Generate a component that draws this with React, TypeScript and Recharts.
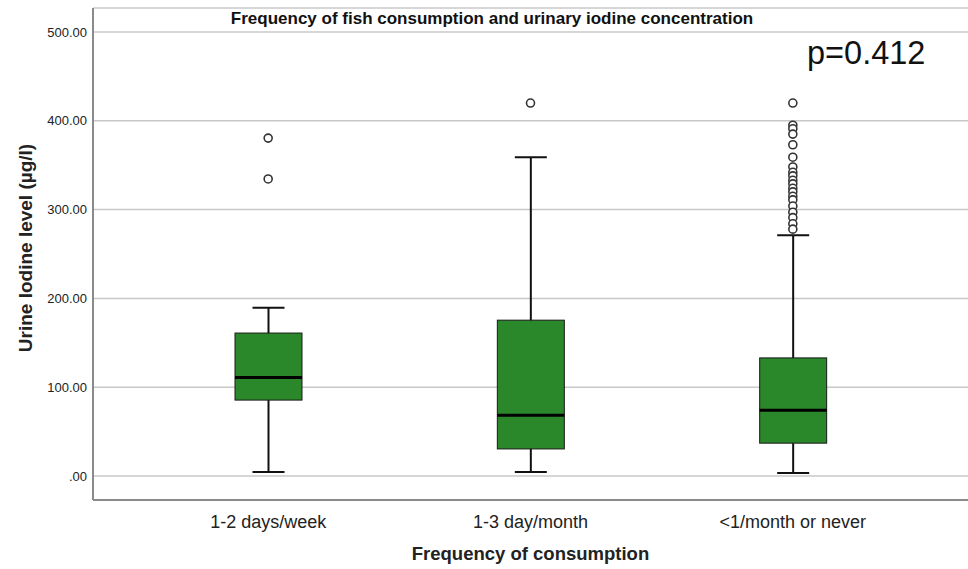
import {
  Bar,
  CartesianGrid,
  ComposedChart,
  Scatter,
  XAxis,
  YAxis,
} from 'recharts';

// box plot stats
const categories = ['1-2 days/week', '1-3 day/month', '<1/month or never'];
const whiskerLow = [4.5, 4.5, 3.5];
const q1 = [85.5, 30.5, 37];
const median = [111, 68.5, 74];
const q3 = [161, 175.5, 133];
const whiskerHigh = [189.5, 359, 271];

const outliersWeek = [334.5, 380.5];
const outliersMonth = [420];
const outliersNever = [
  420, 395, 391, 385, 373, 359, 348, 342, 338, 333, 329, 324, 320, 315, 311,
  304, 297, 291, 284, 278,
];

const yTicks = [0, 100, 200, 300, 400, 500];

const boxData = categories.map((name, i) => ({
  name,
  min: whiskerLow[i],
  q1: q1[i],
  median: median[i],
  q3: q3[i],
  max: whiskerHigh[i],
}));

const outlierData = [
  ...outliersWeek.map((value) => ({ name: categories[0], value })),
  ...outliersMonth.map((value) => ({ name: categories[1], value })),
  ...outliersNever.map((value) => ({ name: categories[2], value })),
];

const GREEN = '#2a872a';
const FONT = '"Liberation Sans", Arial, sans-serif';

function BoxShape(props: any) {
  const { x, y, width, height, payload } = props;
  if (!payload) return null;
  const span = payload.max - payload.min;
  const pix = (v: number) => y + (height * (payload.max - v)) / span;
  const cx = x + width / 2;
  const cap = 16;
  return (
    <g>
      <line x1={cx} x2={cx} y1={pix(payload.max)} y2={pix(payload.min)} stroke="#111" strokeWidth={2} />
      <line x1={cx - cap} x2={cx + cap} y1={pix(payload.max)} y2={pix(payload.max)} stroke="#111" strokeWidth={2} />
      <line x1={cx - cap} x2={cx + cap} y1={pix(payload.min)} y2={pix(payload.min)} stroke="#111" strokeWidth={2} />
      <rect
        x={x}
        y={pix(payload.q3)}
        width={width}
        height={pix(payload.q1) - pix(payload.q3)}
        fill={GREEN}
        stroke="#1a1a1a"
        strokeWidth={1}
      />
      <line x1={x} x2={x + width} y1={pix(payload.median)} y2={pix(payload.median)} stroke="#000" strokeWidth={3} />
    </g>
  );
}

function OutlierDot(props: any) {
  const { cx, cy } = props;
  return <circle cx={cx} cy={cy} r={4} fill="#fff" stroke="#333" strokeWidth={1.6} />;
}

export default function App() {
  return (
    <div style={{ position: 'absolute', left: 0, top: 0, width: 968, height: 569, fontFamily: FONT, background: '#fff' }}>
      <ComposedChart
        width={968}
        height={569}
        data={boxData}
        margin={{ top: 8, right: 0, left: 0, bottom: 0 }}
      >
        <CartesianGrid vertical={false} stroke="#c8c8c8" strokeWidth={1.5} />
        <XAxis
          dataKey="name"
          type="category"
          allowDuplicatedCategory={false}
          padding={{ left: 44, right: 44 }}
          height={69}
          tickLine={false}
          tickSize={6}
          tickMargin={9}
          axisLine={{ stroke: '#8a8a8a', strokeWidth: 2 }}
          tick={{ fill: '#222', fontSize: 18, fontFamily: FONT }}
          label={{
            value: 'Frequency of consumption',
            position: 'insideBottom',
            offset: 9,
            style: { fill: '#222', fontSize: 18.5, fontWeight: 'bold', fontFamily: FONT },
          }}
        />
        <YAxis
          type="number"
          domain={[-27, 527]}
          ticks={yTicks}
          allowDataOverflow
          width={93}
          tickLine={false}
          tickSize={4}
          tickMargin={2}
          axisLine={{ stroke: '#8a8a8a', strokeWidth: 2 }}
          tick={{ fill: '#222', fontSize: 13, fontFamily: FONT }}
          tickFormatter={(v: number) => (v === 0 ? '.00' : v.toFixed(2))}
          label={{
            value: 'Urine Iodine level (µg/l)',
            angle: -90,
            position: 'insideLeft',
            offset: 25,
            dy: -6,
            style: { textAnchor: 'middle', fill: '#222', fontSize: 19, fontWeight: 'bold', fontFamily: FONT },
          }}
        />
        <Bar
          dataKey={(d: any) => [d.min, d.max]}
          barSize={67}
          shape={BoxShape}
          isAnimationActive={false}
        />
        <Scatter
          data={outlierData}
          dataKey="value"
          shape={OutlierDot}
          isAnimationActive={false}
        />
      </ComposedChart>
      <div
        style={{
          position: 'absolute',
          left: 0,
          width: 984,
          top: 10,
          textAlign: 'center',
          fontSize: 17,
          lineHeight: 1,
          fontWeight: 'bold',
          color: '#111',
        }}
      >
        Frequency of fish consumption and urinary iodine concentration
      </div>
      <div
        style={{
          position: 'absolute',
          left: 807,
          top: 37,
          fontSize: 32.5,
          lineHeight: 1,
          color: '#111',
        }}
      >
        p=0.412
      </div>
    </div>
  );
}
